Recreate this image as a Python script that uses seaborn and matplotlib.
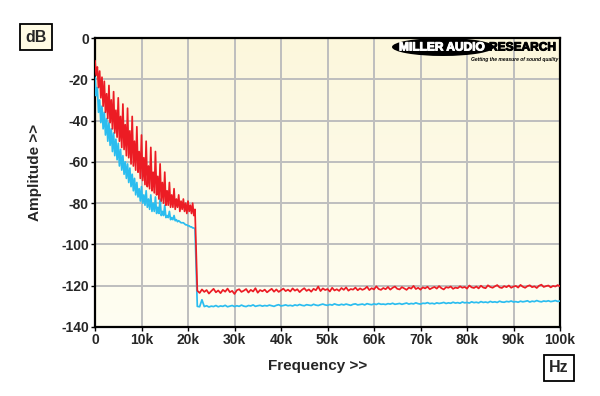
import numpy as np
import pandas as pd
import matplotlib
matplotlib.use("Agg")
import matplotlib.pyplot as plt
import matplotlib.patheffects as pe
import seaborn as sns
from matplotlib.patches import Ellipse
from matplotlib.colors import LinearSegmentedColormap

# ---------------- data ----------------
# low-frequency part: 0 .. 21.5 kHz, 0.25 kHz spacing
freq_low_khz = np.arange(0, 21.5001, 0.25)
red_low = [
    -11, -18, -14, -24, -16, -29, -19, -33, -21, -36, -27, -39, -23, -41, -30, -44,
    -26, -46, -35, -48, -29, -50, -38, -53, -32, -54, -42, -57, -34, -58, -45, -61,
    -38, -62, -50, -64, -43, -65, -55, -68, -47, -69, -58, -71, -50, -72, -62, -73,
    -53, -74, -65, -75, -55, -76, -67, -78, -61, -79, -70, -80, -65, -81, -74, -81,
    -70, -82, -76, -82, -73, -83, -78, -82, -76, -84, -79, -83, -78, -84, -80, -85,
    -79, -84, -81, -85, -80, -86, -83,
]
cyan_low = [
    -19, -28, -24, -36, -30, -41, -33, -44, -36, -47, -39, -50, -41, -52, -44, -55,
    -46, -57, -49, -59, -51, -62, -54, -64, -57, -66, -60, -68, -61, -70, -63, -72,
    -66, -74, -68, -76, -70, -77, -73, -79, -72, -80, -76, -81, -74, -82, -78, -83,
    -76, -84, -80, -84, -77, -85, -82, -85, -78, -86, -84, -86, -81, -87, -86, -87,
    -84, -88, -87, -88, -86, -88.5, -88, -89, -88.5, -89, -89.5, -89.5, -89.5, -90, -90.5, -90.5,
    -91, -91, -91.5, -91.5, -92, -92, -92.5,
]
# high-frequency part: 22 .. 100 kHz, 0.5 kHz spacing
freq_high_khz = np.arange(22, 100.001, 0.5)
red_high = [
    -122.4, -123.5, -121.8, -123.0, -122.1, -123.8, -122.6, -121.5, -123.2, -122.3,
    -123.6, -122.0, -122.9, -121.4, -123.1, -122.5, -124.0, -122.2, -121.7, -123.0,
    -122.4, -121.6, -123.3, -122.0, -122.8, -121.2, -123.4, -122.1, -122.7, -121.9,
    -123.2, -122.3, -121.5, -122.9, -121.8, -123.0, -122.2, -121.4, -122.6, -121.9,
    -122.8, -121.3, -122.4, -121.7, -123.1, -122.0, -121.2, -122.5, -121.8, -122.9,
    -121.5, -122.2, -120.4, -122.6, -121.3, -122.1, -121.6, -122.8, -121.0, -122.3,
    -121.7, -122.5, -121.1, -122.0, -120.8, -122.4, -121.6, -121.9, -120.9, -122.2,
    -121.3, -122.0, -121.5, -120.5, -122.1, -121.2, -121.8, -120.3, -121.6, -122.0,
    -121.1, -121.7, -120.6, -121.9, -121.0, -120.4, -121.5, -121.8, -120.7, -121.3,
    -122.0, -120.9, -121.4, -120.1, -121.6, -121.0, -121.9, -120.8, -121.3, -120.5,
    -121.7, -121.1, -120.6, -121.4, -120.2, -121.2, -121.8, -120.7, -121.0, -120.4,
    -121.5, -120.9, -121.2, -120.3, -121.0, -120.6, -121.4, -119.9, -120.8, -121.1,
    -120.4, -121.3, -120.0, -120.9, -121.2, -119.8, -120.6, -121.0, -120.3, -119.7,
    -120.8, -121.1, -120.2, -120.7, -119.9, -121.0, -120.4, -120.1, -120.9, -119.6,
    -120.5, -121.0, -120.2, -119.8, -120.7, -120.3, -121.1, -120.0, -119.5, -120.6,
    -120.2, -119.9, -120.8, -120.1, -120.4, -119.7, -120.3,
]
cyan_high = [
    -130.0, -130.2, -126.8, -130.1, -129.7, -130.3, -129.9, -130.1, -129.6, -130.2,
    -129.8, -130.0, -129.5, -130.2, -129.9, -129.6, -130.1, -129.7, -130.0, -129.4,
    -129.9, -130.1, -129.6, -129.8, -129.3, -130.0, -129.7, -129.5, -129.9, -129.6,
    -129.8, -129.4, -129.7, -130.0, -129.5, -129.2, -129.8, -129.6, -129.3, -129.7,
    -129.5, -129.8, -129.3, -129.6, -129.1, -129.5, -129.7, -129.2, -129.4, -129.6,
    -129.0, -129.4, -129.6, -129.2, -128.9, -129.3, -129.5, -129.1, -129.4, -128.8,
    -129.2, -129.4, -129.0, -129.3, -128.9, -129.2, -129.5, -129.0, -128.8, -129.3,
    -129.1, -128.9, -129.3, -128.7, -129.0, -129.2, -128.8, -129.1, -128.6, -129.0,
    -128.9, -129.1, -128.7, -128.9, -128.5, -129.0, -128.8, -128.6, -129.0, -128.7,
    -128.4, -128.9, -128.6, -128.8, -128.3, -128.7, -128.9, -128.5, -128.6, -128.2,
    -128.7, -128.5, -128.8, -128.3, -128.6, -128.4, -128.1, -128.6, -128.3, -128.5,
    -128.0, -128.4, -128.2, -128.5, -127.9, -128.3, -128.1, -128.4, -127.8, -128.2,
    -128.0, -128.3, -127.7, -128.1, -127.9, -128.2, -127.6, -128.0, -127.8, -128.1,
    -127.5, -127.9, -128.0, -127.6, -127.8, -127.4, -127.9, -127.7, -128.0, -127.5,
    -127.8, -127.6, -127.3, -127.9, -127.5, -127.7, -127.2, -127.6, -127.8, -127.4,
    -127.6, -127.3, -127.7, -127.5, -127.2, -127.6, -127.4,
]
x_ticks = [0, 10000, 20000, 30000, 40000, 50000, 60000, 70000, 80000, 90000, 100000]
x_tick_labels = ["0", "10k", "20k", "30k", "40k", "50k", "60k", "70k", "80k", "90k", "100k"]
y_ticks = [0, -20, -40, -60, -80, -100, -120, -140]

# ---------------- build long-form table ----------------
freq_hz = np.concatenate([freq_low_khz, freq_high_khz]) * 1000.0
df = pd.concat([
    pd.DataFrame({"Frequency": freq_hz, "Amplitude": np.array(cyan_low + cyan_high), "ch": "B"}),
    pd.DataFrame({"Frequency": freq_hz, "Amplitude": np.array(red_low + red_high), "ch": "A"}),
], ignore_index=True)

# ---------------- figure ----------------
sns.set_style("white")
plt.rcParams["font.family"] = ["Liberation Sans", "DejaVu Sans"]

fig = plt.figure(figsize=(6.0, 3.96), dpi=100)
ax = fig.add_axes([95 / 600, 1 - 327 / 396, 465 / 600, 289 / 396])

# background gradient (slightly more yellow at top, paler at bottom)
cmap = LinearSegmentedColormap.from_list("bg", ["#FCF7DC", "#FFFEF2"])
grad = np.linspace(0, 1, 256).reshape(-1, 1)
ax.imshow(grad, extent=[0, 100000, -140, 0], aspect="auto", cmap=cmap, zorder=0, origin="upper")

sns.lineplot(data=df, x="Frequency", y="Amplitude", hue="ch", hue_order=["B", "A"],
             palette={"A": "#EC1C24", "B": "#2BBDEF"}, estimator=None, sort=False,
             linewidth=1.25, legend=False, ax=ax, zorder=3)

ax.set_xlim(0, 100000)
ax.set_ylim(-140, 0)
ax.set_xticks(x_ticks)
ax.set_xticklabels(x_tick_labels)
ax.set_yticks(y_ticks)
ax.set_yticklabels([str(v) for v in y_ticks])
ax.set_axisbelow(True)
ax.grid(True, color="#BEBEBE", linewidth=1.4)
for s in ax.spines.values():
    s.set_color("black")
    s.set_linewidth(1.6)
ax.tick_params(axis="both", direction="out", length=3, width=1, color="black",
               labelsize=10, pad=1.5, left=True, bottom=True)
for lab in ax.get_xticklabels() + ax.get_yticklabels():
    lab.set_fontweight("bold")

ax.set_xlabel("Frequency >>", fontsize=11, fontweight="bold")
ax.set_ylabel("Amplitude >>", fontsize=11, fontweight="bold")
ax.xaxis.set_label_coords((318 - 95) / 465, -(359 - 327) / 289)
ax.yaxis.set_label_coords(-(95 - 42) / 465, (327 - 172) / 289)

# unit boxes
fig.text(36 / 600, 1 - 37 / 396, "dB", ha="center", va="center", fontsize=11.5, fontweight="bold",
         bbox=dict(boxstyle="square,pad=0.35", facecolor="#FFFBE4", edgecolor="black", linewidth=1.3))
fig.text(559 / 600, 1 - 368 / 396, "Hz", ha="center", va="center", fontsize=11.5, fontweight="bold",
         bbox=dict(boxstyle="square,pad=0.35", facecolor="#FFFFFF", edgecolor="black", linewidth=1.3))

# logo
ell = Ellipse((443 / 600, 1 - 47 / 396), 102 / 600, 18 / 396, transform=fig.transFigure,
              facecolor="black", edgecolor="none", zorder=10)
fig.add_artist(ell)
fig.text(399 / 600, 1 - 47.5 / 396, "MILLER AUDIO", ha="left", va="center", color="white",
         fontsize=8.6, fontweight="bold", family="Liberation Sans", zorder=11,
         path_effects=[pe.withStroke(linewidth=0.7, foreground="white")])
fig.text(489 / 600, 1 - 47.5 / 396, "RESEARCH", ha="left", va="center", color="black",
         fontsize=8.6, fontweight="bold", family="Liberation Sans", zorder=11,
         path_effects=[pe.withStroke(linewidth=0.7, foreground="black")])
fig.text(558 / 600, 1 - 59.5 / 396, "Getting the measure of sound quality", ha="right", va="center",
         color="black", fontsize=3.6, fontweight="bold", style="italic", zorder=11)

fig.savefig("out.png", dpi=100, facecolor="white")
